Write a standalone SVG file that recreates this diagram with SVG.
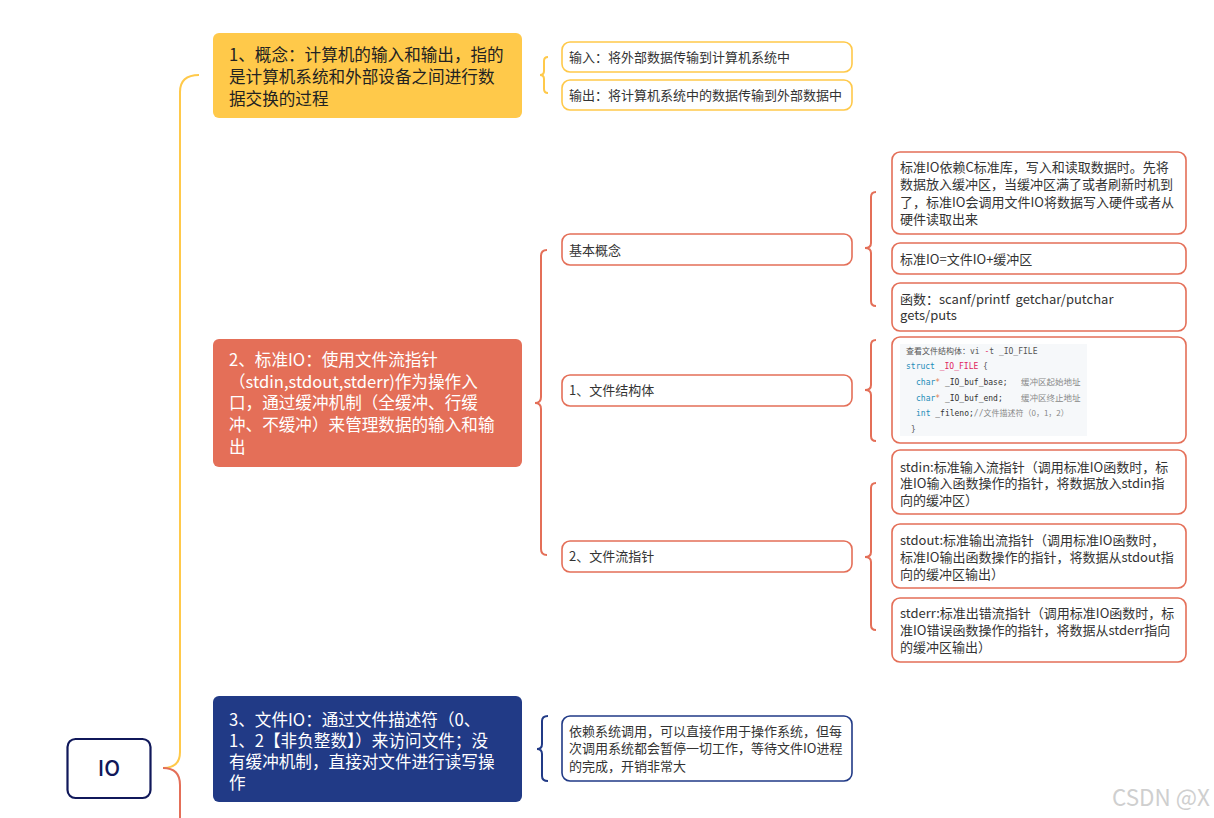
<svg xmlns="http://www.w3.org/2000/svg" width="1214" height="818" viewBox="0 0 1214 818">
<style>
text{font-family:"Noto Sans CJK SC","Noto Sans",sans-serif}
.main{font-size:16.6px}
.sub{font-size:13px;fill:#333}
.ybox{fill:#fff;stroke:#ffc94a;stroke-width:1.6}
.rbox{fill:#fff;stroke:#e46f58;stroke-width:1.6}
.nbox{fill:#fff;stroke:#213a86;stroke-width:1.6}
.con{fill:none;stroke-width:2}
.y{stroke:#ffc94a}.r{stroke:#e46f58}.n{stroke:#213a86}
.code{font-family:"DejaVu Sans Mono","Liberation Mono","Noto Sans CJK SC",monospace;font-size:8px;fill:#555}
.cmt{font-family:"Noto Sans CJK SC",sans-serif;font-size:8.5px;fill:#888}
.kw{fill:#1a8bb8}.st{fill:#e0245e}.dk{fill:#333}
</style>
<defs><clipPath id="cc"><rect x="900" y="344" width="187" height="92"/></clipPath></defs>
<g id="connectors">
<path class="con y" d="M163,768 Q180,768 180,752 V92 Q180,75 199,75"/>
<path class="con r" d="M163,768 Q180,768 180,785 V818"/>
<path class="con y" d="M548,57 Q544,57 544,61 V71 Q544,75 540,75 Q544,75 544,79 V89 Q544,93 548,93"/>
<path class="con r" d="M547,250 Q541,250 541,256 V397 Q541,403 535,403 Q541,403 541,409 V549 Q541,555 547,555"/>
<path class="con r" d="M876,192 Q871,192 871,197 V243 Q871,248 865,248 Q871,248 871,253 V301 Q871,306 876,306"/>
<path class="con r" d="M876,340 Q871,340 871,345 V385 Q871,390 865,390 Q871,390 871,395 V436 Q871,441 876,441"/>
<path class="con r" d="M876,483 Q871,483 871,488 V552 Q871,557 865,557 Q871,557 871,562 V625 Q871,630 876,630"/>
<path class="con n" d="M548,716 Q542,716 542,721 V744 Q542,749 537,749 Q542,749 542,754 V776 Q542,781 548,781"/>
</g>
<g id="root">
<rect x="67.5" y="739" width="83" height="59" rx="8" fill="#fff" stroke="#10185a" stroke-width="2.2"/>
<text x="109" y="776" text-anchor="middle" font-size="21" font-weight="500" fill="#10185a">IO</text>
</g>
<g id="n1">
<rect x="213" y="33" width="309" height="85" rx="6" fill="#ffc94a"/>
<text class="main" fill="#222"><tspan x="229" y="61">1、概念：计算机的输入和输出，指的</tspan><tspan x="229" y="83">是计算机系统和外部设备之间进行数</tspan><tspan x="229" y="105">据交换的过程</tspan></text>
</g>
<g id="n1a"><rect class="ybox" x="562" y="42" width="290" height="30" rx="8"/><text class="sub" x="569" y="61.5">输入：将外部数据传输到计算机系统中</text></g>
<g id="n1b"><rect class="ybox" x="562" y="80" width="290" height="30" rx="8"/><text class="sub" x="569" y="99.5">输出：将计算机系统中的数据传输到外部数据中</text></g>
<g id="n2">
<rect x="213" y="339" width="309" height="128" rx="6" fill="#e46f58"/>
<text class="main" fill="#fff"><tspan x="229" y="366">2、标准IO：使用文件流指针</tspan><tspan x="229" y="388">（stdin,stdout,stderr)作为操作入</tspan><tspan x="229" y="409">口，通过缓冲机制（全缓冲、行缓</tspan><tspan x="229" y="431">冲、不缓冲）来管理数据的输入和输</tspan><tspan x="229" y="453">出</tspan></text>
</g>
<g id="n2a"><rect class="rbox" x="562" y="234" width="290" height="31" rx="8"/><text class="sub" x="569" y="254.5">基本概念</text></g>
<g id="n2b"><rect class="rbox" x="562" y="375" width="290" height="31" rx="8"/><text class="sub" x="569" y="395">1、文件结构体</text></g>
<g id="n2c"><rect class="rbox" x="562" y="541" width="290" height="31" rx="8"/><text class="sub" x="569" y="561">2、文件流指针</text></g>
<g id="n2a1"><rect class="rbox" x="892" y="152" width="294" height="82" rx="8"/><text class="sub"><tspan x="900" y="171.5">标准IO依赖C标准库，写入和读取数据时。先将</tspan><tspan x="900" y="189">数据放入缓冲区，当缓冲区满了或者刷新时机到</tspan><tspan x="900" y="206.5">了，标准IO会调用文件IO将数据写入硬件或者从</tspan><tspan x="900" y="224">硬件读取出来</tspan></text></g>
<g id="n2a2"><rect class="rbox" x="892" y="243" width="294" height="31" rx="8"/><text class="sub" x="900" y="263.5">标准IO=文件IO+缓冲区</text></g>
<g id="n2a3"><rect class="rbox" x="892" y="283" width="294" height="48" rx="8"/><text class="sub"><tspan x="900" y="303.5">函数：scanf/printf&#160; getchar/putchar</tspan><tspan x="900" y="320">gets/puts</tspan></text></g>
<g id="n2b1"><rect class="rbox" x="892" y="337" width="294" height="106" rx="8"/>
<rect x="900" y="344" width="187" height="92" fill="#f6f8fa"/>
<g clip-path="url(#cc)">
<text class="code" x="906" y="354"><tspan font-family="Noto Sans CJK SC,sans-serif">查看文件结构体：</tspan>vi <tspan class="st">-</tspan>t _IO_FILE</text>
<text class="code" x="906" y="369"><tspan class="kw">struct</tspan> <tspan class="st">_IO_FILE</tspan> {</text>
<text class="code" x="916" y="385"><tspan class="kw">char</tspan><tspan fill="#e07b53">*</tspan><tspan class="dk"> _IO_buf_base;</tspan></text>
<text class="cmt" x="1021" y="385">缓冲区起始地址</text>
<text class="code" x="916" y="401"><tspan class="kw">char</tspan><tspan fill="#e07b53">*</tspan><tspan class="dk"> _IO_buf_end;</tspan></text>
<text class="cmt" x="1021" y="401">缓冲区终止地址</text>
<text class="code" x="916" y="416"><tspan class="kw">int</tspan><tspan class="dk"> _fileno;</tspan><tspan fill="#888">//</tspan><tspan fill="#888" font-family="Noto Sans CJK SC,sans-serif">文件描述符（0，1，2）</tspan></text>
<text class="code" x="911" y="432">}</text>
</g></g>
<g id="n2c1"><rect class="rbox" x="892" y="450" width="294" height="64" rx="8"/><text class="sub"><tspan x="900" y="471.5">stdin:标准输入流指针（调用标准IO函数时，标</tspan><tspan x="900" y="488">准IO输入函数操作的指针，将数据放入stdin指</tspan><tspan x="900" y="504.5">向的缓冲区）</tspan></text></g>
<g id="n2c2"><rect class="rbox" x="892" y="524" width="294" height="64" rx="8"/><text class="sub"><tspan x="900" y="544.5">stdout:标准输出流指针（调用标准IO函数时，</tspan><tspan x="900" y="561.5">标准IO输出函数操作的指针，将数据从stdout指</tspan><tspan x="900" y="579">向的缓冲区输出）</tspan></text></g>
<g id="n2c3"><rect class="rbox" x="892" y="598" width="294" height="64" rx="8"/><text class="sub"><tspan x="900" y="617.5">stderr:标准出错流指针（调用标准IO函数时，标</tspan><tspan x="900" y="635">准IO错误函数操作的指针，将数据从stderr指向</tspan><tspan x="900" y="651.5">的缓冲区输出）</tspan></text></g>
<g id="n3">
<rect x="213" y="696" width="309" height="106" rx="6" fill="#213a86"/>
<text class="main" fill="#fff"><tspan x="229" y="726">3、文件IO：通过文件描述符（0、</tspan><tspan x="229" y="747">1、2【非负整数】）来访问文件；没</tspan><tspan x="229" y="768">有缓冲机制，直接对文件进行读写操</tspan><tspan x="229" y="789">作</tspan></text>
</g>
<g id="n3a"><rect class="nbox" x="562" y="716" width="290" height="65" rx="8"/><text class="sub"><tspan x="569" y="736">依赖系统调用，可以直接作用于操作系统，但每</tspan><tspan x="569" y="753">次调用系统都会暂停一切工作，等待文件IO进程</tspan><tspan x="569" y="770.5">的完成，开销非常大</tspan></text></g>
<text x="1112" y="806" font-family="Liberation Sans,Arial,sans-serif" font-size="23" textLength="98" lengthAdjust="spacingAndGlyphs" fill="#cfcfcf">CSDN @X</text>
</svg>
